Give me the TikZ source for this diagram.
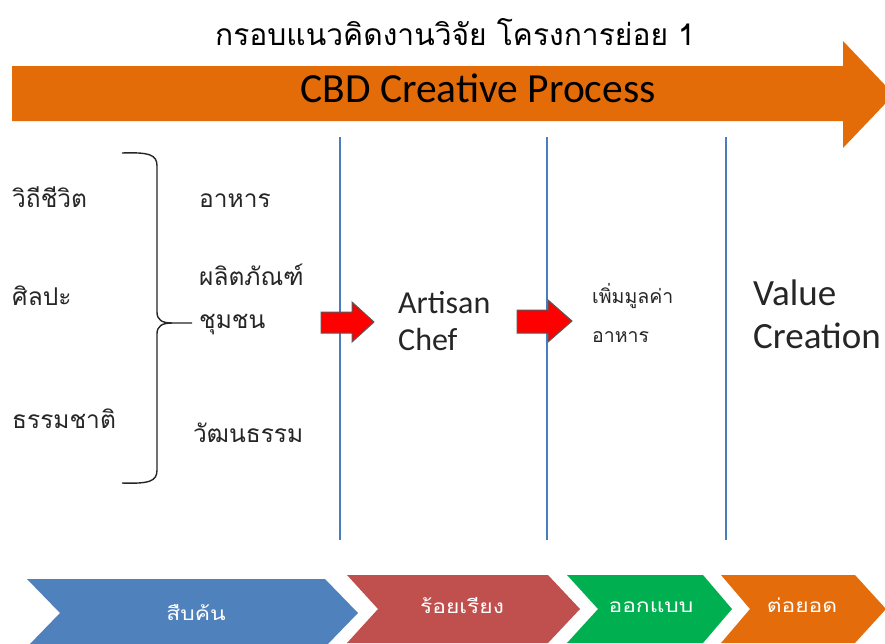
\documentclass[tikz,border=0pt]{standalone}
\usepackage{fontspec}
\setmainfont{Carlito}
\newfontfamily\thai[Script=Thai]{Loma}
\newfontfamily\thaiwide[Script=Thai, FakeStretch=1.2]{Loma}
\definecolor{bandorange}{HTML}{E36C09}
\definecolor{chblue}{HTML}{4F81BD}
\definecolor{chred}{HTML}{C0504D}
\definecolor{chgreen}{HTML}{00B050}
\definecolor{chorange}{HTML}{E46C0A}
\definecolor{vline}{HTML}{4A7EBB}
\definecolor{txt}{HTML}{262626}
\tikzset{
  lbl/.style={inner sep=0pt, anchor=base west, text=txt},
  thlbl/.style={lbl, font=\thai\fontsize{24.5}{28}\selectfont},
  enlbl/.style={lbl, font=\fontsize{32}{36}\selectfont},
  chlbl/.style={inner sep=0pt, anchor=base, text=white, font=\thaiwide\fontsize{19}{22}\selectfont},
  sepline/.style={draw=vline, line width=1.1pt},
  redarrow/.style={fill=red, draw=black!65, line width=1pt, line join=miter},
}
\begin{document}
\begin{tikzpicture}[x=1pt,y=-1pt]
\useasboundingbox (0,0) rectangle (885,643);
\clip (0,0) rectangle (885,643);
\fill[white] (0,0) rectangle (885,643);
% title
\node[inner sep=0pt, anchor=base, text=black, font=\thai\fontsize{30}{34}\selectfont] (title) at (455,45) {กรอบแนวคิดงานวิจัย โครงการย่อย 1};
% big orange arrow
\fill[bandorange] (12,66) -- (843,66) -- (843,41) -- (894,94.5) -- (843,148) -- (843,121) -- (12,121) -- cycle;
\node[inner sep=0pt, anchor=base, text=black, font=\fontsize{41.5}{45}\selectfont] (cbd) at (478,102) {CBD Creative Process};
% separator lines
\coordinate (l1t) at (340,137); \coordinate (l1b) at (340,540);
\coordinate (l2t) at (547,137); \coordinate (l2b) at (547,540);
\coordinate (l3t) at (726,137); \coordinate (l3b) at (726,540);
\draw[sepline] (l1t) -- (l1b);
\draw[sepline] (l2t) -- (l2b);
\draw[sepline] (l3t) -- (l3b);
% left column
\node[thlbl] (wt) at (12,207) {วิถีชีวิต};
\node[thlbl] (sl) at (12,305) {ศิลปะ};
\node[thlbl] (tm) at (12,428) {ธรรมชาติ};
% brace
\draw[txt, line width=1.4pt] (122,153) .. controls (150,152) and (157,155) .. (157,166) -- (157,312) .. controls (157,320) and (162,323) .. (172,323) -- (192,323);
\draw[txt, line width=1.4pt] (172,323) .. controls (162,323) and (157,326) .. (157,334) -- (157,470) .. controls (157,481) and (150,484) .. (122,483);
% middle column
\node[thlbl] (ah) at (199,207) {อาหาร};
\node[thlbl] (pl) at (199,285) {ผลิตภัณฑ์};
\node[thlbl] (cm) at (199,328) {ชุมชน};
\node[thlbl] (wn) at (193,442) {วัฒนธรรม};
% red arrows
\draw[redarrow] (321,312) -- (352,312) -- (352,302) -- (374,322) -- (352,342) -- (352,333) -- (321,333) -- cycle;
\draw[redarrow] (517,310) -- (548,310) -- (548,300) -- (572,321) -- (548,342) -- (548,333) -- (517,333) -- cycle;
% artisan chef
\node[enlbl] (art) at (398,313) {Artisan};
\node[enlbl] (chef) at (398,350) {Chef};
% value adding
\node[lbl, font=\thai\fontsize{19.5}{23}\selectfont] (pm) at (592,303) {เพิ่มมูลค่า};
\node[lbl, font=\thai\fontsize{19.5}{23}\selectfont] (ah2) at (592,342) {อาหาร};
% value creation
\node[lbl, font=\fontsize{37}{42}\selectfont] (val) at (753,305) {Value};
\node[lbl, font=\fontsize{37}{42}\selectfont] (cre) at (753,348) {Creation};
% chevrons
\fill[chblue] (27,579) -- (325,579) -- (358,613) -- (325,647) -- (27,647) -- (60,613) -- cycle;
\fill[chred] (347,575) -- (548,575) -- (580,609) -- (548,643) -- (347,643) -- (378,609) -- cycle;
\fill[chgreen] (567,575) -- (703,575) -- (732,609) -- (703,643) -- (567,643) -- (598,609) -- cycle;
\fill[chorange] (721,575) -- (855,575) -- (886,609) -- (855,643) -- (721,643) -- (750,609) -- cycle;
\node[chlbl] (c1) at (196,620) {สืบค้น};
\node[chlbl] (c2) at (462,613) {ร้อยเรียง};
\node[chlbl] (c3) at (651,612) {ออกแบบ};
\node[chlbl] (c4) at (802,612) {ต่อยอด};
\end{tikzpicture}
\end{document}
